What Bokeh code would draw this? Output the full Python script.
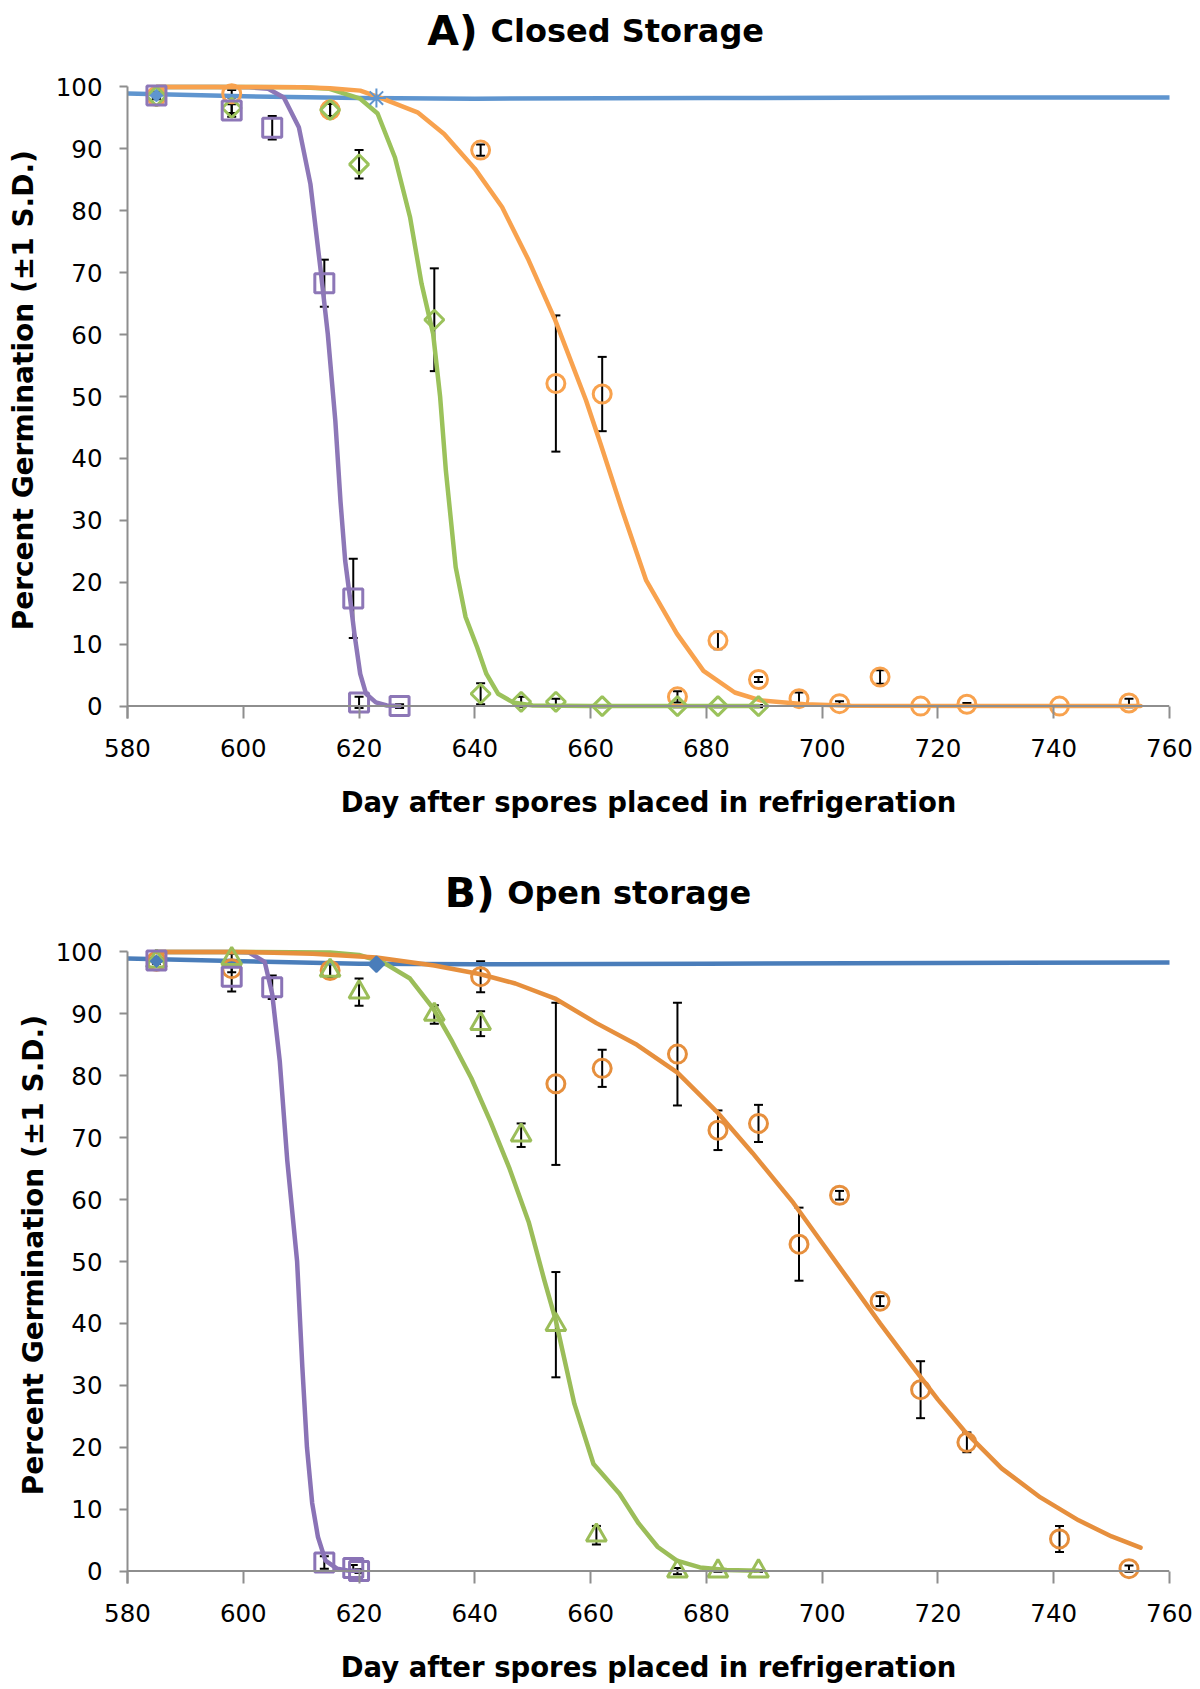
import math
from bokeh.plotting import figure
from bokeh.layouts import column
from bokeh.models import (ColumnDataSource, Whisker, TeeHead, Label, FixedTicker,
                          Range1d, Span)
from bokeh.embed import file_html
from bokeh.resources import INLINE

# ---------------- data : panel A (closed storage) ----------------
x_ticks = [580, 600, 620, 640, 660, 680, 700, 720, 740, 760]
y_ticks = [0, 10, 20, 30, 40, 50, 60, 70, 80, 90, 100]

a_purple_days = [585, 598, 605, 614, 619, 620, 627]
a_purple_pct = [98.6, 96.2, 93.4, 68.3, 17.4, 0.6, 0.0]
a_purple_sd = [0.6, 1.0, 1.9, 3.8, 6.4, 0.9, 0.3]

a_green_days = [585, 598, 615, 620, 633, 641, 648, 654, 662, 675, 682, 689]
a_green_pct = [98.5, 96.6, 96.3, 87.5, 62.4, 2.0, 0.7, 0.7, 0.0, 0.0, 0.0, 0.0]
a_green_sd = [0.3, 0.8, 1.0, 2.3, 8.3, 1.7, 0.8, 0.5, 0.2, 0.2, 0.2, 0.2]

a_orange_days = [585, 598, 615, 641, 654, 662, 675, 682, 689, 696, 703, 710, 717, 725, 741, 753]
a_orange_pct = [98.5, 98.9, 96.3, 89.8, 52.1, 50.4, 1.5, 10.6, 4.3, 1.2, 0.4, 4.7, 0.0, 0.3, 0.0, 0.5]
a_orange_sd = [0.3, 0.6, 1.0, 0.9, 11.0, 6.0, 0.9, 1.4, 0.4, 1.0, 0.4, 1.1, 0.1, 0.2, 0.1, 0.7]

a_blue_days = [585, 623]
a_blue_pct = [98.6, 98.2]

a_blue_fit_days = [580, 600, 620, 640, 680, 720, 760]
a_blue_fit = [98.95, 98.5, 98.2, 98.1, 98.2, 98.3, 98.3]
a_purple_fit_days = [585, 595, 601, 604.3, 607, 609.6, 611.6, 613.3, 614.6, 615.9, 616.8,
                     617.6, 618.5, 619.2, 620.2, 621.2, 622.9, 624.8, 627]
a_purple_fit = [100, 100, 99.95, 99.7, 98.3, 93.5, 84.3, 70.9, 60.1, 46.1, 33,
                23.5, 17, 11.7, 5.2, 2.0, 0.6, 0.1, 0]
a_green_fit_days = [585, 600, 610, 614.9, 620.2, 623.2, 626.2, 628.8, 630.8, 632.8, 634,
                    635, 636.7, 638.4, 640.4, 642, 644, 646.6, 650, 660, 689]
a_green_fit = [100, 100, 99.95, 99.7, 98.1, 95.7, 88.6, 79, 68.2, 60.1, 50,
               38, 22.4, 14.4, 9.5, 5.2, 2, 0.6, 0.1, 0, 0]
a_orange_fit_days = [585, 600, 610, 615, 620.2, 623.5, 630.1, 634.7, 640, 644.7, 649.3,
                     653.9, 659.2, 661.7, 665.5, 669.6, 674.9, 679.5, 684.9, 689.5, 697, 705, 755]
a_orange_fit = [100, 100, 99.95, 99.8, 99.4, 98.3, 95.9, 92.4, 86.8, 80.6, 72,
                62.3, 49.4, 42.4, 31.5, 20.3, 11.7, 5.7, 2.2, 0.9, 0.3, 0.05, 0]

# ---------------- data : panel B (open storage) ----------------
b_purple_days = [585, 598, 605, 614, 619, 620]
b_purple_pct = [98.6, 96.0, 94.3, 1.4, 0.5, 0.0]
b_purple_sd = [0.5, 2.4, 1.9, 1.0, 0.5, 0.3]

b_green_days = [585, 598, 615, 620, 633, 641, 648, 654, 661, 675, 682, 689]
b_green_pct = [98.5, 98.9, 97.0, 93.5, 89.9, 88.4, 70.4, 39.8, 5.8, 0.0, 0.0, 0.0]
b_green_sd = [0.3, 0.8, 1.0, 2.2, 1.5, 2.0, 1.9, 8.5, 1.5, 0.5, 0.1, 0.1]

b_orange_days = [585, 598, 615, 641, 654, 662, 675, 682, 689, 696, 703, 710, 717, 725, 741, 753]
b_orange_pct = [98.5, 97.3, 97.0, 96.0, 78.7, 81.2, 83.5, 71.2, 72.3, 52.8, 60.7, 43.6, 29.3, 20.8, 5.2, 0.4]
b_orange_sd = [0.3, 0.6, 1.2, 2.5, 13.1, 3.0, 8.3, 3.2, 3.0, 5.9, 0.7, 0.8, 4.6, 1.6, 2.1, 0.5]

b_blue_days = [585, 623]
b_blue_pct = [98.5, 98.0]

b_blue_fit_days = [580, 600, 620, 640, 680, 720, 760]
b_blue_fit = [98.95, 98.5, 98.1, 98.0, 98.1, 98.2, 98.3]
b_purple_fit_days = [585, 598, 601, 603.7, 605, 606.3, 607.6, 609.3, 610.2, 611, 611.9,
                     612.9, 614.2, 616.2, 618, 620]
b_purple_fit = [100, 100, 99.9, 98.4, 93.2, 82.4, 66.3, 50, 33, 20, 11,
                5.5, 1.7, 0.4, 0.1, 0]
b_green_fit_days = [585, 600, 615, 620, 624, 628.8, 632.8, 636.1, 639.4, 642.7, 646, 649.3,
                    652, 654, 657.2, 660.5, 665, 668.3, 671.6, 674.9, 678.9, 683.5, 689]
b_green_fit = [100, 100, 99.9, 99.5, 98.4, 95.7, 90.9, 85.5, 79.6, 72.6, 65, 56.4,
               47, 40.4, 27, 17.3, 12.5, 7.7, 3.9, 1.7, 0.6, 0.2, 0.05]
b_orange_fit_days = [585, 600, 612, 623, 633, 641, 647, 654, 661, 668, 675, 682, 688, 695,
                     700, 705, 710, 715, 720, 724.5, 731, 737.7, 744.3, 750, 755]
b_orange_fit = [100, 100, 99.7, 99.1, 97.8, 96.4, 94.9, 92.4, 88.5, 85, 80.5, 74, 67.5, 59.5,
                53, 46.5, 40, 33.8, 27.7, 22.7, 16.6, 11.9, 8.2, 5.6, 3.8]

FONT = "DejaVu Sans"
AXIS_GREY = "#8e8e8e"
W = 1200
PX_PER_PCT = 6.192
Y_LABEL = "Percent Germination (±1 S.D.)"


def make_panel(height, top, bottom, letter, title, letter_x, title_x, title_y,
               ylabel_standoff, ylabel_pad, colors, series, blue, blue_markers, fits,
               green_marker, green_size, green_angle):
    frame_h = height - top - bottom
    y_end = -2 + frame_h / PX_PER_PCT
    p = figure(width=W, height=height, output_backend="svg", toolbar_location=None,
               x_range=Range1d(580, 760), y_range=Range1d(-2, y_end),
               min_border_left=127, min_border_right=31, min_border_top=top,
               min_border_bottom=bottom)
    p.outline_line_color = None
    p.grid.visible = False
    p.background_fill_color = "white"

    # axes
    p.xaxis.ticker = FixedTicker(ticks=x_ticks)
    p.yaxis.ticker = FixedTicker(ticks=y_ticks)
    p.yaxis.bounds = (-2, 100)
    for ax in (p.xaxis, p.yaxis):
        ax.axis_line_color = AXIS_GREY
        ax.axis_line_width = 2
        ax.major_tick_line_color = AXIS_GREY
        ax.major_tick_line_width = 2
        ax.minor_tick_line_color = None
        ax.major_label_text_font = FONT
        ax.major_label_text_font_size = "24.5px"
        ax.major_label_text_color = "black"
        ax.axis_label_text_font = FONT
        ax.axis_label_text_font_style = "bold"
        ax.axis_label_text_color = "black"
    p.xaxis.axis_line_color = None
    p.xaxis.major_tick_in = 12
    p.xaxis.major_tick_out = 0
    p.xaxis.major_label_standoff = 20
    p.xaxis.axis_label = "Day after spores placed in refrigeration"
    p.xaxis.axis_label_text_font_size = "27.5px"
    p.xaxis.axis_label_standoff = 26
    p.add_layout(Span(location=0, dimension="width", line_color=AXIS_GREY, line_width=2))

    p.yaxis.major_tick_in = 0
    p.yaxis.major_tick_out = 8
    p.yaxis.major_label_standoff = 17
    p.yaxis.axis_label = Y_LABEL + "\u00a0" * ylabel_pad
    p.yaxis.axis_label_text_font_size = "28px"
    p.yaxis.axis_label_standoff = ylabel_standoff

    # fitted curves
    for (fx, fy), col in zip(fits, colors):
        p.line(fx, fy, line_color=col, line_width=4.5, line_cap="round", line_join="round")

    # error bars
    for days, pct, sd in series:
        src = ColumnDataSource(dict(x=days,
                                    u=[v + s for v, s in zip(pct, sd)],
                                    l=[v - s for v, s in zip(pct, sd)]))
        w = Whisker(source=src, base="x", upper="u", lower="l", line_color="black",
                    line_width=2,
                    upper_head=TeeHead(size=9, line_color="black", line_width=2),
                    lower_head=TeeHead(size=9, line_color="black", line_width=2))
        p.add_layout(w)

    # markers : orange circles, green, purple squares, blue
    (pd, pp, _), (gd, gp, _), (od, op, _) = series
    p.scatter(od, op, marker="circle", size=18, fill_color=None,
              line_color=colors[3], line_width=3)
    p.scatter(gd, gp, marker=green_marker, size=green_size, angle=green_angle,
              fill_color=None, line_color=colors[2], line_width=3)
    p.scatter(pd, pp, marker="square", size=19, fill_color=None,
              line_color=colors[1], line_width=3)
    bd, bp = blue
    p.scatter(bd[:1], bp[:1], marker=blue_markers[0], size=9, angle=math.pi / 4,
              fill_color=colors[0], line_color=colors[0], line_width=1)
    p.scatter(bd[1:], bp[1:], marker=blue_markers[1], size=blue_markers[3],
              angle=blue_markers[2],
              fill_color=colors[0], line_color=colors[0], line_width=2)

    # panel title (two sizes, as in the original)
    p.add_layout(Label(x=letter_x, y=title_y, text=letter,
                       text_font=FONT, text_font_style="bold", text_font_size="41px",
                       text_color="black", text_baseline="alphabetic", text_align="left"))
    p.add_layout(Label(x=title_x, y=title_y, text=title,
                       text_font=FONT, text_font_style="bold", text_font_size="32px",
                       text_color="black", text_baseline="alphabetic", text_align="left"))
    return p


colors_a = ["#5f95cf", "#8d77b7", "#9bc25b", "#f8a24e"]
colors_b = ["#4a7dba", "#8a73b6", "#9bbd59", "#e68f3d"]

pa = make_panel(848, 3, 130, "A)", "Closed Storage", 631.8, 642.7, 109.1, 13, 6, colors_a,
                [(a_purple_days, a_purple_pct, a_purple_sd),
                 (a_green_days, a_green_pct, a_green_sd),
                 (a_orange_days, a_orange_pct, a_orange_sd)],
                (a_blue_days, a_blue_pct), ("square", "asterisk", 0.0, 19),
                [(a_blue_fit_days, a_blue_fit), (a_purple_fit_days, a_purple_fit),
                 (a_green_fit_days, a_green_fit), (a_orange_fit_days, a_orange_fit)],
                "square", 13.5, math.pi / 4)

pb = make_panel(841, 10, 106, "B)", "Open storage", 634.8, 645.6, 109.45, 3, 7, colors_b,
                [(b_purple_days, b_purple_pct, b_purple_sd),
                 (b_green_days, b_green_pct, b_green_sd),
                 (b_orange_days, b_orange_pct, b_orange_sd)],
                (b_blue_days, b_blue_pct), ("square", "square", math.pi / 4, 11),
                [(b_blue_fit_days, b_blue_fit), (b_purple_fit_days, b_purple_fit),
                 (b_green_fit_days, b_green_fit), (b_orange_fit_days, b_orange_fit)],
                "triangle", 20, 0.0)

layout = column(pa, pb, spacing=0)
open("out.html", "w").write(file_html(layout, INLINE))
